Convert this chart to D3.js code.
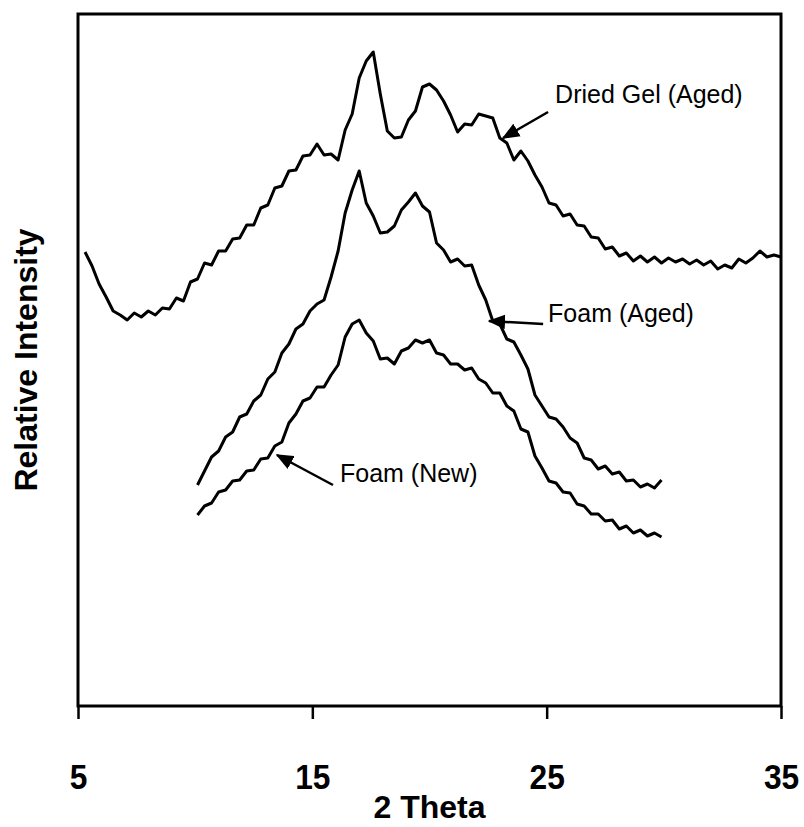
<!DOCTYPE html>
<html>
<head>
<meta charset="utf-8">
<script src="https://cdn.jsdelivr.net/npm/d3@7"></script>
<style>
    body { margin: 0; background: #fff; }
    svg { display: block; font-family: "Liberation Sans", Arial, sans-serif; }
</style>
</head>
<body>
<div id="chart"></div>
<script>
// XRD scans, uniform 2-theta grid (degrees), intensity in arbitrary units
const gelStart = 5.3, foamStart = 10.1, scanStep = 0.3;

const driedGelAged = [
    454, 440, 422, 409, 395, 391, 386, 393, 389, 395,
    391, 398, 397, 408, 405, 424, 427, 443, 441, 455,
    455, 467, 468, 481, 481, 498, 501, 518, 520, 535,
    536, 550, 551, 562, 551, 552, 546, 576, 592, 628,
    645, 654, 612, 575, 568, 569, 586, 595, 619, 622,
    616, 605, 591, 574, 582, 581, 592, 590, 588, 568,
    563, 546, 555, 545, 531, 519, 503, 501, 490, 492,
    481, 480, 469, 468, 457, 459, 450, 453, 445, 450,
    444, 449, 443, 448, 444, 447, 442, 446, 441, 445,
    437, 441, 438, 447, 443, 448, 455, 449, 451, 449
];

const foamAged = [
    221, 235, 249, 255, 269, 274, 289, 292, 305, 311,
    327, 334, 353, 362, 377, 382, 395, 402, 406, 429,
    455, 493, 516, 535, 503, 490, 473, 474, 480, 496,
    504, 513, 500, 494, 463, 456, 444, 447, 440, 441,
    421, 406, 385, 382, 367, 364, 351, 337, 311, 300,
    289, 287, 279, 268, 263, 248, 246, 237, 240, 232,
    234, 225, 226, 219, 222, 218, 226
];

const foamNew = [
    191, 200, 203, 214, 216, 225, 226, 235, 236, 247,
    248, 260, 264, 283, 292, 305, 308, 319, 319, 331,
    341, 369, 382, 386, 373, 365, 347, 348, 342, 355,
    358, 366, 363, 366, 353, 351, 342, 342, 336, 338,
    327, 323, 313, 313, 300, 295, 277, 274, 250, 238,
    225, 223, 214, 213, 202, 200, 192, 192, 185, 186,
    177, 180, 173, 176, 170, 173, 169
];

const xTicks = [5, 15, 25, 35];

// Labels with arrows: text start, arrow tail and arrow tip in data units
const noteLabels = ["Dried Gel (Aged)", "Foam (Aged)", "Foam (New)"];
const noteText = [[25.36, 603], [25.06, 384], [16.18, 224]];
const noteTail = [[25.06, 594], [24.85, 382], [15.88, 221]];
const noteTip = [[23.14, 568], [22.54, 385], [13.49, 251]];

const width = 804, height = 827;
const margin = { top: 14, right: 23, bottom: 121, left: 78 };
const innerW = width - margin.left - margin.right;
const innerH = height - margin.top - margin.bottom;

const svg = d3.select("#chart")
    .append("svg")
    .attr("width", width)
    .attr("height", height);

const x = d3.scaleLinear().domain([5, 35]).range([0, innerW]);
const y = d3.scaleLinear().domain([0, 692]).range([innerH, 0]);

const g = svg.append("g")
    .attr("transform", `translate(${margin.left},${margin.top})`);

// arrow head marker
svg.append("defs").append("marker")
    .attr("id", "head")
    .attr("viewBox", "0 0 12 10")
    .attr("refX", 11)
    .attr("refY", 5)
    .attr("markerWidth", 7)
    .attr("markerHeight", 6)
    .attr("markerUnits", "strokeWidth")
    .attr("orient", "auto")
    .append("path")
    .attr("d", "M0,0 L12,5 L0,10 Z")
    .attr("fill", "#000");

// x axis, ticks only below the frame
const xAxis = g.append("g")
    .attr("transform", `translate(0,${innerH})`)
    .call(d3.axisBottom(x).tickValues(xTicks).tickSize(13).tickSizeOuter(0).tickPadding(0));
xAxis.select(".domain").remove();
xAxis.selectAll(".tick line").attr("stroke", "#000").attr("stroke-width", 2.5);
xAxis.selectAll(".tick text")
    .attr("y", 0)
    .attr("dy", 0)
    .attr("fill", "#000")
    .style("font-size", "36px")
    .style("font-weight", "bold")
    .attr("transform", "translate(0,83) scale(0.88,1)");

// frame
g.append("rect")
    .attr("width", innerW)
    .attr("height", innerH)
    .attr("fill", "none")
    .attr("stroke", "#000")
    .attr("stroke-width", 3);

// curves
const line = d3.line()
    .x(d => x(d[0]))
    .y(d => y(d[1]));

const toPoints = (vals, start) => vals.map((v, i) => [start + i * scanStep, v]);

[toPoints(driedGelAged, gelStart), toPoints(foamAged, foamStart), toPoints(foamNew, foamStart)]
    .forEach(pts => {
        g.append("path")
            .datum(pts)
            .attr("d", line)
            .attr("fill", "none")
            .attr("stroke", "#000")
            .attr("stroke-width", 3)
            .attr("stroke-linejoin", "round");
    });

// annotations
noteLabels.forEach((label, i) => {
    g.append("text")
        .attr("x", x(noteText[i][0]))
        .attr("y", y(noteText[i][1]))
        .style("font-size", "25px")
        .text(label);
    g.append("line")
        .attr("x1", x(noteTail[i][0]))
        .attr("y1", y(noteTail[i][1]))
        .attr("x2", x(noteTip[i][0]))
        .attr("y2", y(noteTip[i][1]))
        .attr("stroke", "#000")
        .attr("stroke-width", 2.5)
        .attr("marker-end", "url(#head)");
});

// axis titles
svg.append("text")
    .attr("transform", `translate(${margin.left + innerW / 2},${height - 9})`)
    .attr("text-anchor", "middle")
    .style("font-size", "32px")
    .style("font-weight", "bold")
    .text("2 Theta");

svg.append("text")
    .attr("transform", `translate(37,${margin.top + 346}) rotate(-90)`)
    .attr("text-anchor", "middle")
    .style("font-size", "32px")
    .style("font-weight", "bold")
    .text("Relative Intensity");
</script>
</body>
</html>
